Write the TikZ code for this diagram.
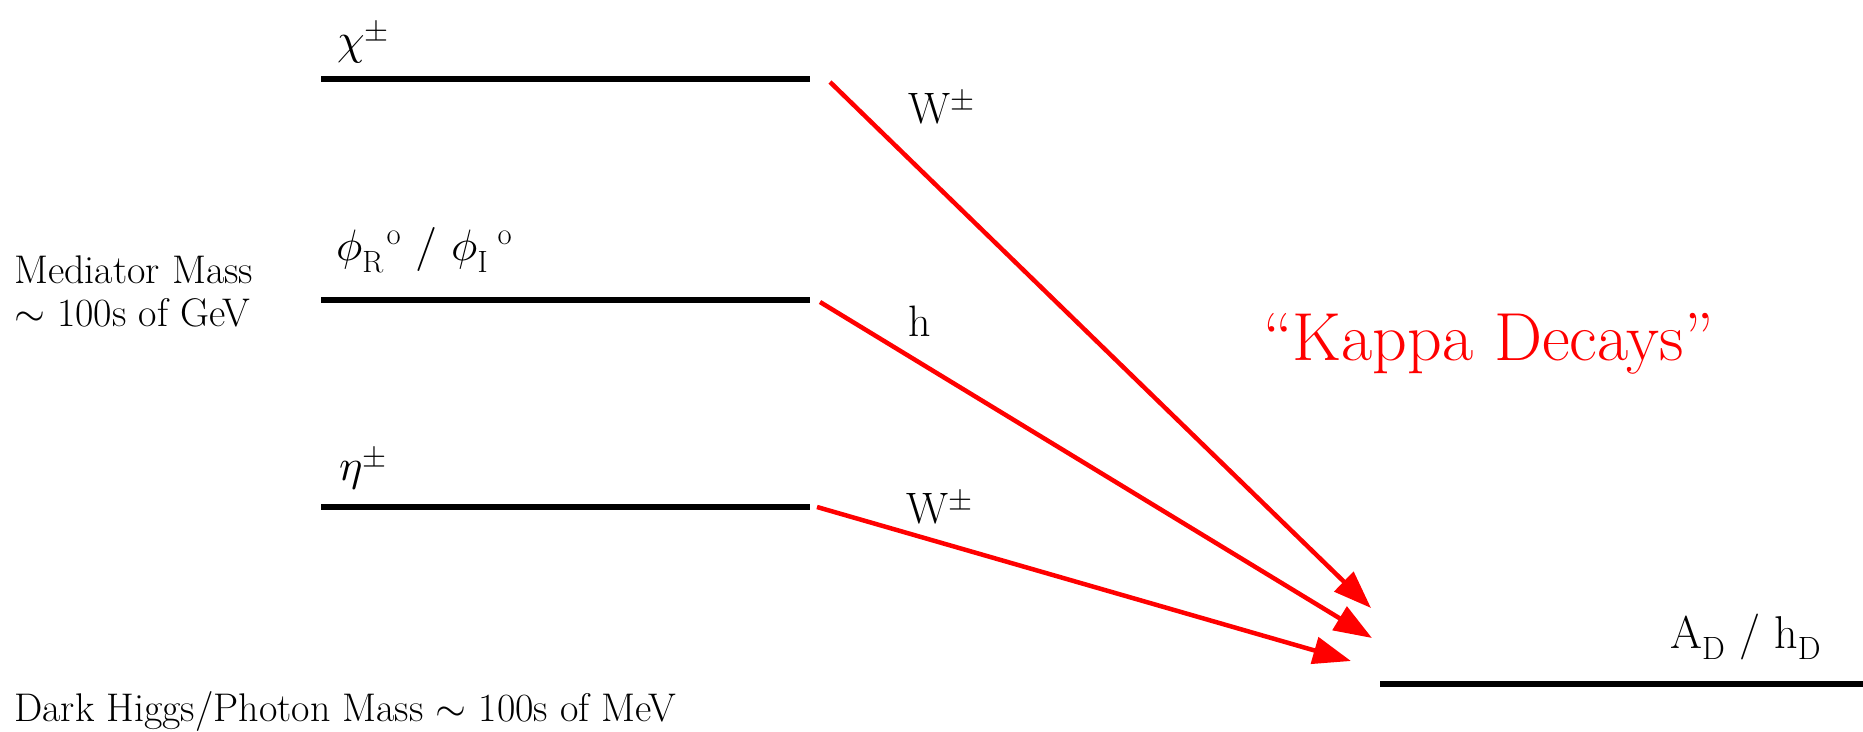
\documentclass[tikz,border=0pt]{standalone}
\usepackage{fontspec}
\usepackage{unicode-math}
\usetikzlibrary{arrows.meta}
\definecolor{kred}{RGB}{255,0,0}
\tikzset{
  level/.style={line width=5.5pt, black},
  decay/.style={line width=4.5pt, kred, -{Triangle[length=38pt,width=27pt]}},
  lab/.style={anchor=base west, inner sep=0pt, font=\fontsize{44}{50}\selectfont},
  txt/.style={anchor=base west, inner sep=0pt, font=\fontsize{40}{46}\selectfont},
  kappa/.style={anchor=base west, inner sep=0pt, text=kred, font=\fontsize{68}{76}\selectfont},
}
\begin{document}
\begin{tikzpicture}[x=1pt,y=-1pt]
\useasboundingbox (0,0) rectangle (1863,731);
% levels
\coordinate (l1a) at (321,79);  \coordinate (l1b) at (810,79);
\coordinate (l2a) at (321,300); \coordinate (l2b) at (810,300);
\coordinate (l3a) at (321,507); \coordinate (l3b) at (810,507);
\coordinate (l4a) at (1380,684); \coordinate (l4b) at (1863,684);
\draw[level] (l1a) -- (l1b);
\draw[level] (l2a) -- (l2b);
\draw[level] (l3a) -- (l3b);
\draw[level] (l4a) -- (l4b);
% decay arrows
\coordinate (s1) at (830,82);  \coordinate (t1) at (1371,608);
\coordinate (s2) at (820,302); \coordinate (t2) at (1372,638);
\coordinate (s3) at (817,507); \coordinate (t3) at (1351,661);
\draw[decay] (s1) -- (t1);
\draw[decay] (s2) -- (t2);
\draw[decay] (s3) -- (t3);
% labels
\node[lab] (chi) at (337,54) {$\chi^{\pm}$};
\node[lab] (phi) at (336,260) {$\phi_{\mathrm{R}}^{\hspace{24pt}\mathrm{o}}\hspace{14pt}/\hspace{14pt}\phi_{\mathrm{I}}^{\hspace{20pt}\mathrm{o}}$};
\node[lab] (eta) at (339,480) {$\eta^{\pm}$};
\node[lab] (w1) at (908,123) {W$^{\pm}$};
\node[lab] (h) at (908,336) {h};
\node[lab] (w2) at (906,523) {W$^{\pm}$};
\node[lab, font=\fontsize{46}{52}\selectfont] (ad) at (1670,648) {A$_{\mathrm{D}}$ / h$_{\mathrm{D}}$};
\node[kappa] (kd) at (1263,360) {``Kappa Decays''};
\node[txt] (mm1) at (14,283) {Mediator Mass};
\node[txt] (mm2) at (14,326) {$\sim$ 100s of GeV};
\node[txt] (dh) at (14,721) {Dark Higgs/Photon Mass $\sim$ 100s of MeV};
\end{tikzpicture}
\end{document}
